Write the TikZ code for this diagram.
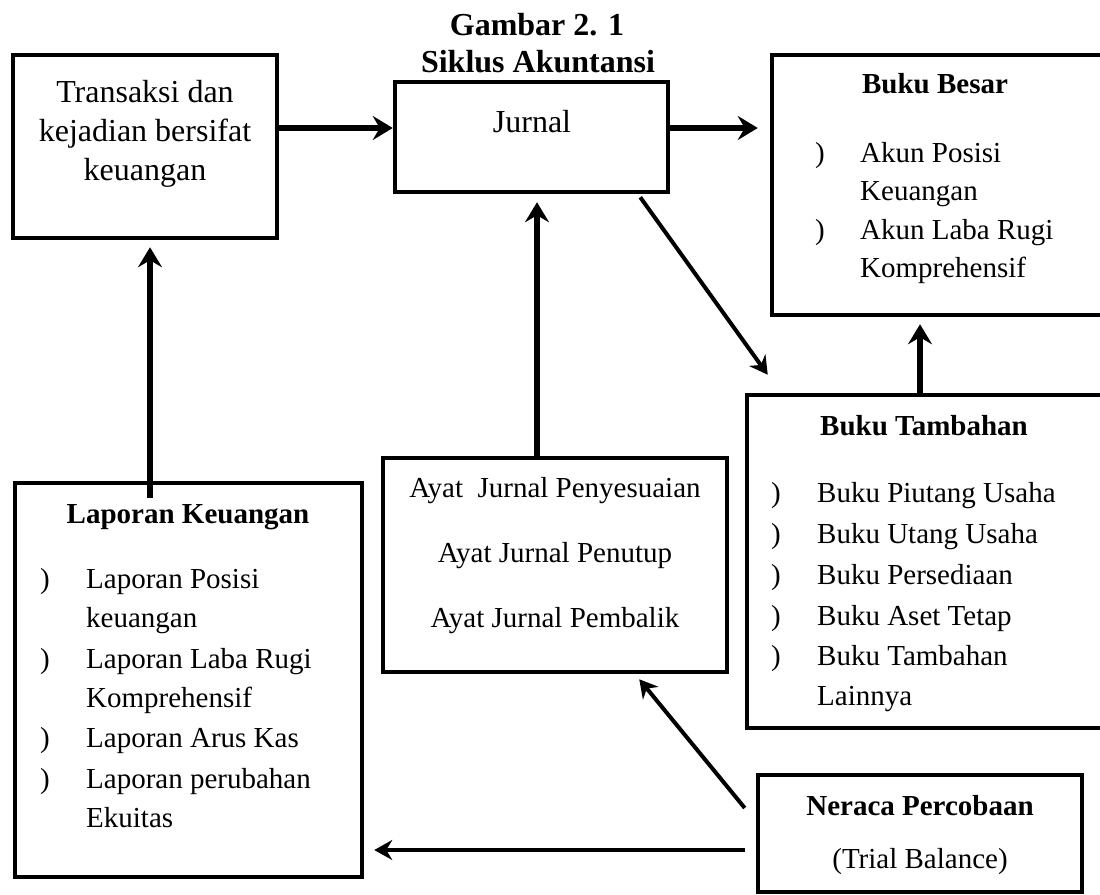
\documentclass[tikz,border=0pt]{standalone}
\usepackage{fontspec}
\setmainfont{Liberation Serif}
\usetikzlibrary{arrows.meta}
\begin{document}
\begin{tikzpicture}[x=1pt,y=-1pt,
  box/.style={draw=black, line width=4.5pt, rectangle, inner sep=0pt},
  big/.style={font=\fontsize{32}{38}\selectfont, inner sep=0pt, anchor=base},
  txt/.style={font=\fontsize{29}{35}\selectfont, inner sep=0pt, anchor=base},
  hdr/.style={font=\fontsize{29}{35}\selectfont\bfseries, inner sep=0pt, anchor=base},
  itm/.style={font=\fontsize{29}{35}\selectfont, inner sep=0pt, anchor=base west},
  bul/.style={font=\fontsize{29}{35}\selectfont, inner sep=0pt, anchor=base},
  ttl/.style={font=\fontsize{32}{38}\selectfont\bfseries, inner sep=0pt, anchor=base},
  arr/.style={line width=5.5pt, -{Stealth[length=20pt,width=24pt,inset=7pt]}},
  darr/.style={line width=4pt, -{Stealth[length=18pt,width=20pt,inset=6pt]}}
]
\useasboundingbox (0,0) rectangle (1100,894);

% title
\node[ttl] (t1) at (537,35) {Gambar 2. 1};
\node[ttl] (t2) at (538,72) {Siklus Akuntansi};

% boxes
\node[box, minimum width=264pt, minimum height=183pt] (trans) at (145,146.5) {};
\node[box, minimum width=273pt, minimum height=110pt] (jurnal) at (531.5,137) {};
\node[box, minimum width=336pt, minimum height=260pt] (besar) at (940,185) {};
\node[box, minimum width=361pt, minimum height=333pt] (tambah) at (927.5,561.5) {};
\node[box, minimum width=347pt, minimum height=394pt] (lapor) at (188.5,680) {};
\node[box, minimum width=344pt, minimum height=214pt] (ayat) at (555,565) {};
\node[box, minimum width=324pt, minimum height=117pt] (neraca) at (920,833.5) {};

% Transaksi
\node[big] (tr1) at (145,102) {Transaksi dan};
\node[big] (tr2) at (145,141) {kejadian bersifat};
\node[big] (tr3) at (145,180) {keuangan};

% Jurnal
\node[big] (ju1) at (532,132) {Jurnal};

% Buku Besar
\node[hdr] (bb0) at (935,93) {Buku Besar};
\node[bul] (bbb1) at (820,162) {)};
\node[itm] (bb1) at (860,162) {Akun Posisi};
\node[itm] (bb2) at (860,200) {Keuangan};
\node[bul] (bbb2) at (820,239) {)};
\node[itm] (bb3) at (860,239) {Akun Laba Rugi};
\node[itm] (bb4) at (860,277) {Komprehensif};

% Buku Tambahan
\node[hdr] (bt0) at (924,435) {Buku Tambahan};
\node[bul] (btb1) at (776,502) {)};
\node[itm] (bt1) at (817,502) {Buku Piutang Usaha};
\node[bul] (btb2) at (776,543) {)};
\node[itm] (bt2) at (817,543) {Buku Utang Usaha};
\node[bul] (btb3) at (776,584) {)};
\node[itm] (bt3) at (817,584) {Buku Persediaan};
\node[bul] (btb4) at (776,625) {)};
\node[itm] (bt4) at (817,625) {Buku Aset Tetap};
\node[bul] (btb5) at (776,665) {)};
\node[itm] (bt5) at (817,665) {Buku Tambahan};
\node[itm] (bt6) at (817,705) {Lainnya};

% Laporan Keuangan
\node[hdr] (lk0) at (188,523) {Laporan Keuangan};
\node[bul] (lkb1) at (45,588) {)};
\node[itm] (lk1) at (86,588) {Laporan Posisi};
\node[itm] (lk2) at (86,627) {keuangan};
\node[bul] (lkb2) at (45,668) {)};
\node[itm] (lk3) at (86,668) {Laporan Laba Rugi};
\node[itm] (lk4) at (86,707) {Komprehensif};
\node[bul] (lkb3) at (45,747) {)};
\node[itm] (lk5) at (86,747) {Laporan Arus Kas};
\node[bul] (lkb4) at (45,788) {)};
\node[itm] (lk6) at (86,788) {Laporan perubahan};
\node[itm] (lk7) at (86,827) {Ekuitas};

% Ayat
\node[txt] (ay1) at (555,497) {Ayat~ Jurnal Penyesuaian};
\node[txt] (ay2) at (555,562) {Ayat Jurnal Penutup};
\node[txt] (ay3) at (555,627) {Ayat Jurnal Pembalik};

% Neraca
\node[hdr] (nr1) at (920,815) {Neraca Percobaan};
\node[txt] (nr2) at (920,868) {(Trial Balance)};

% connectors
\draw[arr] ([yshift=18.5pt]trans.east) -- ([yshift=9pt]jurnal.west);
\draw[arr, shorten >=12pt] ([yshift=9pt]jurnal.east) -- ([yshift=57pt]besar.west);
\draw[darr] ([xshift=-30pt,yshift=-3pt]jurnal.south east) -- ([xshift=23pt,yshift=18pt]tambah.north west);
\draw[arr, shorten >=7pt] ([xshift=-7.5pt]tambah.north) -- ([xshift=-20pt]besar.south);
\draw[arr, shorten >=8pt] ([xshift=-18pt]ayat.north) -- ([xshift=5.5pt]jurnal.south);
\draw[arr, shorten >=7pt] ([xshift=-38.5pt,yshift=-17pt]lapor.north) -- ([xshift=5pt]trans.south);
\draw[darr] ([xshift=-11pt,yshift=25.5pt]neraca.west) -- ([xshift=-90pt,yshift=-5pt]ayat.south east);
\draw[darr] ([xshift=-11pt,yshift=-16.5pt]neraca.west) -- ([xshift=10pt,yshift=-170pt]lapor.east);
\end{tikzpicture}
\end{document}
